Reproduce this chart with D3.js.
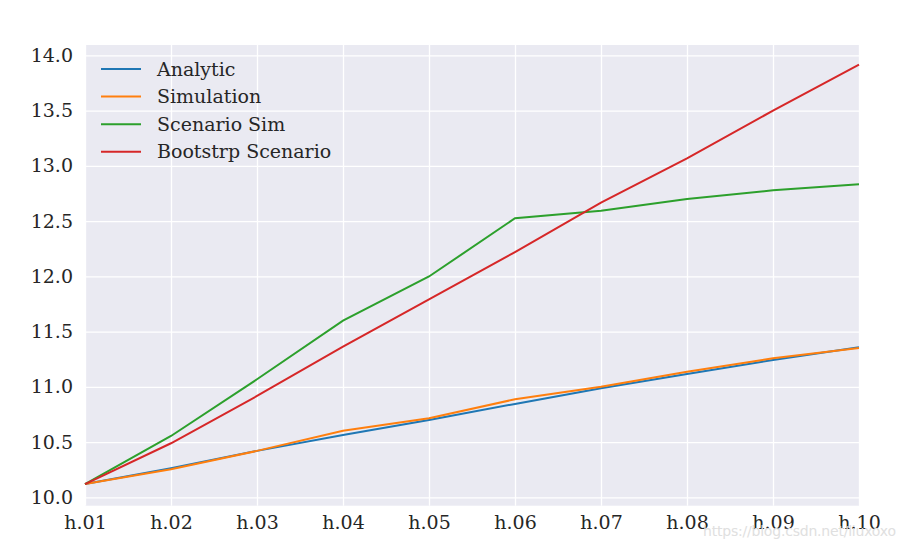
<!DOCTYPE html>
<html>
<head>
<meta charset="utf-8">
<script src="https://cdn.jsdelivr.net/npm/d3@7"></script>
<style>
  body { margin: 0; background: #fff; }
  svg text { font-family: "DejaVu Serif", serif; fill: #262626; }
</style>
</head>
<body>
<svg id="chart" width="907" height="549"></svg>
<script>
const horizons = ['h.01', 'h.02', 'h.03', 'h.04', 'h.05', 'h.06', 'h.07', 'h.08', 'h.09', 'h.10']
const analytic = [10.12, 10.262, 10.42, 10.564, 10.70, 10.845, 10.986, 11.116, 11.243, 11.357]
const simulation = [10.12, 10.253, 10.42, 10.603, 10.715, 10.887, 11.0, 11.137, 11.258, 11.35]
const scenarioSim = [10.12, 10.555, 11.068, 11.598, 11.998, 12.525, 12.594, 12.70, 12.778, 12.833]
const bootstrp = [10.12, 10.489, 10.917, 11.363, 11.79, 12.219, 12.667, 13.068, 13.499, 13.915]
const yTicks = [10.0, 10.5, 11.0, 11.5, 12.0, 12.5, 13.0, 13.5, 14.0]

const series = [
  { name: 'Analytic', values: analytic, color: '#1f77b4' },
  { name: 'Simulation', values: simulation, color: '#ff7f0e' },
  { name: 'Scenario Sim', values: scenarioSim, color: '#2ca02c' },
  { name: 'Bootstrp Scenario', values: bootstrp, color: '#d62728' }
]

const mLeft = 85, mRight = 859, mTop = 45, mBottom = 505.7

const svg = d3.select('#chart')

const x = d3.scalePoint()
  .domain(horizons)
  .range([mLeft, mRight])

const y = d3.scaleLinear()
  .domain([9.924, 14.093])
  .range([mBottom, mTop])

svg.append('rect')
  .attr('x', mLeft).attr('y', mTop)
  .attr('width', mRight - mLeft).attr('height', mBottom - mTop)
  .attr('fill', '#eaeaf2')

// grid + tick labels
svg.append('g')
  .attr('transform', `translate(0,${mBottom})`)
  .call(d3.axisBottom(x).tickSize(-(mBottom - mTop)).tickPadding(10))
  .call(g => g.select('.domain').remove())
  .call(g => g.selectAll('line').attr('stroke', '#fff').attr('stroke-width', 1.3))
  .call(g => g.selectAll('text').attr('font-size', 19).attr('fill', '#262626'))

svg.append('g')
  .attr('transform', `translate(${mLeft},0)`)
  .call(d3.axisLeft(y).tickValues(yTicks).tickFormat(d3.format('.1f'))
    .tickSize(-(mRight - mLeft)).tickPadding(12))
  .call(g => g.select('.domain').remove())
  .call(g => g.selectAll('line').attr('stroke', '#fff').attr('stroke-width', 1.3))
  .call(g => g.selectAll('text').attr('font-size', 19).attr('fill', '#262626'))

svg.selectAll('g.tick text').attr('font-family', '"DejaVu Serif", serif')

const line = d3.line()
  .x((d, i) => x(horizons[i]))
  .y(d => y(d))

svg.append('g')
  .selectAll('path')
  .data(series)
  .join('path')
    .attr('d', d => line(d.values))
    .attr('fill', 'none')
    .attr('stroke', d => d.color)
    .attr('stroke-width', 2)

// legend
const legend = svg.append('g')
  .selectAll('g')
  .data(series)
  .join('g')
    .attr('transform', (d, i) => `translate(101,${69 + i * 27.6})`)

legend.append('line')
  .attr('x1', 0).attr('x2', 40)
  .attr('stroke', d => d.color)
  .attr('stroke-width', 2)

legend.append('text')
  .attr('x', 56)
  .attr('dy', '0.35em')
  .attr('font-size', 19)
  .text(d => d.name)

// watermark (sits over the last tick labels, as in the source image)
svg.append('text')
  .attr('x', 703).attr('y', 536)
  .attr('font-size', 14)
  .attr('textLength', 193)
  .style('font-family', '"DejaVu Sans", sans-serif')
  .style('fill', '#e0e0e0')
  .text('https://blog.csdn.net/liuxoxo')
</script>
</body>
</html>
